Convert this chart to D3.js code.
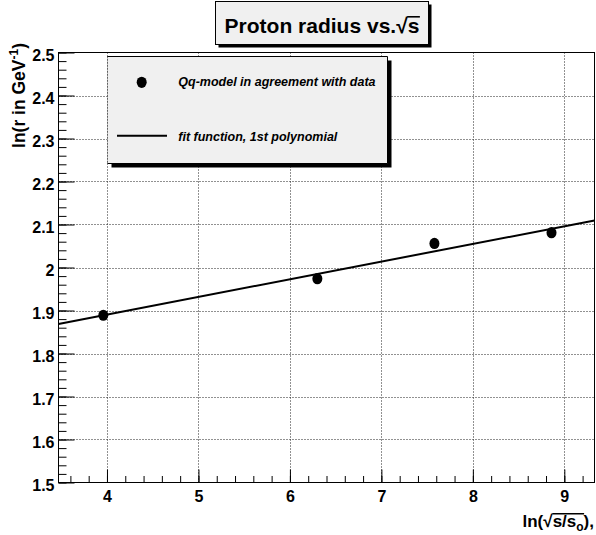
<!DOCTYPE html>
<html>
<head>
<meta charset="utf-8">
<script src="https://cdn.jsdelivr.net/npm/d3@7"></script>
<style>
  html, body { margin: 0; padding: 0; background: #fff; }
  svg { display: block; font-family: "Liberation Sans", Arial, Helvetica, sans-serif; }
</style>
</head>
<body>
<svg id="chart" width="596" height="535"></svg>
<script>
// ---------------- data ----------------
const xValues = [3.96, 6.30, 7.58, 8.86];          // ln(sqrt(s/s0))
const yValues = [1.889, 1.974, 2.056, 2.081];      // ln(r in GeV^-1)
const fitCoefficients = [1.726, 0.0411];           // p0 + p1*x (1st polynomial)
const xTickValues = [4, 5, 6, 7, 8, 9];
const yTickValues = [1.5, 1.6, 1.7, 1.8, 1.9, 2.0, 2.1, 2.2, 2.3, 2.4, 2.5];
const xDomain = [3.47, 9.33];
const yDomain = [1.5, 2.5];
const legendLabels = ["Qq-model in agreement with data", "fit function, 1st polynomial"];

// ---------------- layout ----------------
const FONT = '"Liberation Sans", Arial, Helvetica, sans-serif';
const svg = d3.select("#chart");
const fr = { l: 58.5, r: 594.5, t: 52.5, b: 482.5 };
const x = d3.scaleLinear().domain(xDomain).range([fr.l, fr.r]);
const y = d3.scaleLinear().domain(yDomain).range([fr.b, fr.t]);

const canvas = document.createElement("canvas");
const ctx = canvas.getContext("2d");
function ink(str, font) { ctx.font = font; return ctx.measureText(str); }

// grid
const grid = svg.append("g").attr("stroke", "#222").attr("stroke-width", 1)
  .attr("stroke-dasharray", "1,2").attr("fill", "none");
grid.selectAll("line.gx").data(xTickValues).join("line")
  .attr("x1", d => Math.round(x(d)) + 0.5).attr("x2", d => Math.round(x(d)) + 0.5)
  .attr("y1", fr.t).attr("y2", fr.b);
grid.selectAll("line.gy").data(yTickValues.filter(d => d > yDomain[0] && d < yDomain[1])).join("line")
  .attr("y1", d => Math.round(y(d)) + 0.5).attr("y2", d => Math.round(y(d)) + 0.5)
  .attr("x1", fr.l).attr("x2", fr.r);

// fit line
const fitX = xDomain;
svg.append("path")
  .datum(fitX.map(v => [v, fitCoefficients[0] + fitCoefficients[1] * v]))
  .attr("d", d3.line().x(d => x(d[0])).y(d => y(d[1])))
  .attr("stroke", "#000").attr("stroke-width", 2).attr("fill", "none");

// points
svg.append("g").selectAll("ellipse").data(xValues.map((v, i) => [v, yValues[i]])).join("ellipse")
  .attr("cx", d => x(d[0])).attr("cy", d => y(d[1]))
  .attr("rx", 5).attr("ry", 5.6).attr("fill", "#000");

// axes: major + minor ticks
const axX = svg.append("g").attr("transform", `translate(0,${fr.b})`)
  .call(d3.axisBottom(x).tickValues(xTickValues).tickSize(-13).tickPadding(8).tickFormat(d3.format("d")));
const axXm = svg.append("g").attr("transform", `translate(0,${fr.b})`)
  .call(d3.axisBottom(x).ticks(30).tickSize(-6.5).tickFormat(""));
const axY = svg.append("g").attr("transform", `translate(${fr.l},0)`)
  .call(d3.axisLeft(y).tickValues(yTickValues).tickSize(-16).tickPadding(4).tickFormat(d3.format("~g")));
const axYm = svg.append("g").attr("transform", `translate(${fr.l},0)`)
  .call(d3.axisLeft(y).ticks(50).tickSize(-8).tickFormat(""));
[axX, axXm, axY, axYm].forEach(a => {
  a.select(".domain").remove();
  a.selectAll(".tick line").attr("stroke", "#000").attr("stroke-width", 1);
  a.selectAll("text").attr("font-family", FONT).attr("font-weight", "bold")
    .attr("font-size", 16).attr("fill", "#000");
});
axY.selectAll("text").attr("dy", "0.48em");

// frame
svg.append("rect").attr("x", fr.l).attr("y", fr.t).attr("width", fr.r - fr.l).attr("height", fr.b - fr.t)
  .attr("fill", "none").attr("stroke", "#000").attr("stroke-width", 1);

// legend
const lg = { x: 107.5, y: 56.5, w: 280, h: 107, sh: 4 };
svg.append("rect").attr("x", lg.x + lg.sh).attr("y", lg.y + lg.sh).attr("width", lg.w).attr("height", lg.h).attr("fill", "#000");
svg.append("rect").attr("x", lg.x).attr("y", lg.y).attr("width", lg.w).attr("height", lg.h).attr("fill", "#f0f0f0");
svg.append("path").attr("d", `M${lg.x},${lg.y}H${lg.x + lg.w}V${lg.y + lg.h}H${lg.x}`)
  .attr("fill", "none").attr("stroke", "#000");
svg.append("line").attr("x1", lg.x).attr("x2", lg.x).attr("y1", lg.y).attr("y2", lg.y + lg.h)
  .attr("stroke", "#000").attr("stroke-dasharray", "1,2");
svg.append("ellipse").attr("cx", 141.7).attr("cy", 82.3).attr("rx", 5).attr("ry", 5.6).attr("fill", "#000");
svg.append("line").attr("x1", 117).attr("x2", 167).attr("y1", 135.7).attr("y2", 135.7)
  .attr("stroke", "#000").attr("stroke-width", 2);
svg.selectAll("text.leg").data(legendLabels).join("text").attr("class", "leg")
  .attr("x", 178.3).attr("y", (d, i) => i === 0 ? 86 : 140.5)
  .attr("font-family", FONT).attr("font-weight", "bold").attr("font-style", "italic")
  .attr("font-size", 12.5).text(d => d);

// title box
const tb = { x: 215.5, y: 1.5, w: 213, h: 43, sh: 3 };
svg.append("rect").attr("x", tb.x + tb.sh).attr("y", tb.y + tb.sh).attr("width", tb.w).attr("height", tb.h).attr("fill", "#000");
svg.append("rect").attr("x", tb.x).attr("y", tb.y).attr("width", tb.w).attr("height", tb.h)
  .attr("fill", "#f0f0f0").attr("stroke", "#000");
const titleFs = 21;
const title = svg.append("text").attr("x", tb.x + tb.w / 2).attr("y", 33).attr("text-anchor", "middle")
  .attr("font-family", FONT).attr("font-weight", "bold").attr("font-size", titleFs);
title.append("tspan").text("Proton radius vs.");
title.append("tspan").text("\u221A");
title.append("tspan").text("s");

function overline(textSel, rootIdx, endIdx, fontStr, baseline) {
  const node = textSel.node();
  const eR = node.getExtentOfChar(rootIdx);
  const eE = node.getExtentOfChar(endIdx);
  const m = ink("\u221A", fontStr);
  const top = baseline - m.actualBoundingBoxAscent + 0.8;
  const x0 = eR.x + m.actualBoundingBoxRight - 1;
  svg.append("line").attr("x1", x0).attr("x2", eE.x + eE.width + 0.5)
    .attr("y1", top).attr("y2", top).attr("stroke", "#000").attr("stroke-width", 1.6);
}
overline(title, 17, 18, `bold ${titleFs}px ${FONT}`, 33);

// x axis title
const xtFs = 17;
const xt = svg.append("text").attr("x", 594).attr("y", 527).attr("text-anchor", "end")
  .attr("font-family", FONT).attr("font-weight", "bold").attr("font-size", xtFs);
xt.append("tspan").text("ln(");
xt.append("tspan").text("\u221A");
xt.append("tspan").text("s/s");
xt.append("tspan").attr("font-size", 12).attr("dy", 4).text("o");
xt.append("tspan").attr("dy", -4).text("),");
overline(xt, 3, 7, `bold ${xtFs}px ${FONT}`, 527);

// y axis title
const yt = svg.append("text").attr("transform", "translate(25,43) rotate(-90)").attr("text-anchor", "end")
  .attr("font-family", FONT).attr("font-weight", "bold").attr("font-size", 17.5);
yt.append("tspan").text("ln(r in GeV");
yt.append("tspan").attr("font-size", 12).attr("dy", -7.5).text("-1");
yt.append("tspan").attr("dy", 7.5).text(")");
</script>
</body>
</html>
